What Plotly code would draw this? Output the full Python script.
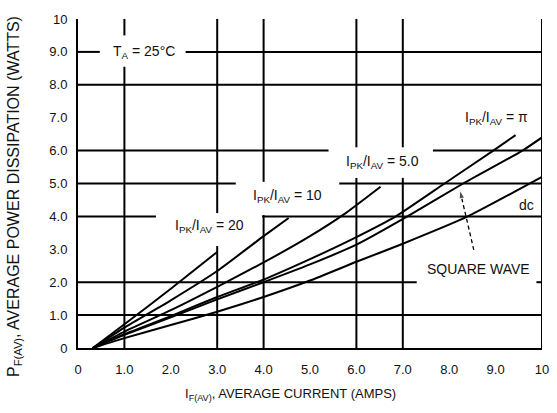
import plotly.graph_objects as go

# ---- data ----
x_ratio20 = [0.32, 1.0, 2.0, 3.0]
y_ratio20 = [0.0, 0.72, 1.80, 2.92]

x_ratio10 = [0.32, 1.0, 2.0, 3.0, 4.0, 4.54]
y_ratio10 = [0.0, 0.62, 1.45, 2.34, 3.40, 3.95]

x_ratio5 = [0.32, 1.0, 2.0, 3.0, 4.0, 5.0, 5.77, 6.52]
y_ratio5 = [0.0, 0.50, 1.15, 1.86, 2.60, 3.40, 4.10, 4.90]

x_ratiopi = [0.32, 1.0, 2.0, 3.0, 4.0, 5.0, 6.0, 6.85, 7.9, 8.95, 9.43]
y_ratiopi = [0.0, 0.42, 0.97, 1.55, 2.08, 2.70, 3.37, 4.0, 5.0, 6.0, 6.47]

x_square = [0.32, 1.0, 2.0, 3.0, 4.0, 5.0, 6.0, 7.1, 8.3, 9.58, 10.0]
y_square = [0.0, 0.40, 0.93, 1.48, 2.00, 2.54, 3.14, 4.0, 5.0, 6.0, 6.40]

x_dc = [0.32, 1.0, 2.0, 3.0, 4.0, 5.0, 6.0, 7.0, 8.4, 10.0]
y_dc = [0.0, 0.30, 0.70, 1.10, 1.55, 2.05, 2.62, 3.17, 4.0, 5.20]

tick_vals = [0, 1, 2, 3, 4, 5, 6, 7, 8, 9, 10]
tick_text = ["0", "1.0", "2.0", "3.0", "4.0", "5.0", "6.0", "7.0", "8.0", "9.0", "10"]

# grid segments: (x value, y from, y to) and (y value, x from, x to)
vgrid_x = [1, 1, 3, 3, 4, 4, 6, 6, 7, 7, 10]
vgrid_y0 = [9.5, 0, 4.1, 0, 5.05, 0, 6.1, 0, 6.1, 0, 0]
vgrid_y1 = [10, 8.55, 10, 3.1, 10, 4.04, 10, 5.17, 10, 5.17, 10]

hgrid_y = [9, 9, 8, 6, 6, 5, 5, 4, 4, 2, 2, 1]
hgrid_x0 = [0, 2.32, 0, 0, 7.65, 0, 5.63, 0, 3.97, 0, 9.88, 0]
hgrid_x1 = [0.47, 10, 10, 5.4, 10, 3.4, 10, 1.68, 10, 7.3, 10, 10]

# labels
label_text = ["T<sub>A</sub> = 25°C", "I<sub>PK</sub>/I<sub>AV</sub> = 20",
              "I<sub>PK</sub>/I<sub>AV</sub> = 10", "I<sub>PK</sub>/I<sub>AV</sub> = 5.0",
              "I<sub>PK</sub>/I<sub>AV</sub> = π", "dc", "SQUARE WAVE"]
label_x = [1.42, 2.83, 4.52, 6.56, 9.02, 9.66, 8.64]
label_y = [9.0, 3.72, 4.62, 5.65, 6.98, 4.35, 2.4]

arrow_x = [8.53, 8.23]
arrow_y = [2.98, 4.8]

FONT = "Liberation Sans, Arial, sans-serif"

fig = go.Figure()
for xs, ys in [(x_ratio20, y_ratio20), (x_ratio10, y_ratio10), (x_ratio5, y_ratio5),
               (x_ratiopi, y_ratiopi), (x_square, y_square), (x_dc, y_dc)]:
    fig.add_trace(go.Scatter(x=xs, y=ys, mode="lines",
                             line=dict(color="black", width=2, shape="spline", smoothing=0.5),
                             showlegend=False, hoverinfo="skip"))

fig.add_trace(go.Scatter(x=arrow_x, y=arrow_y, mode="lines+markers",
                         line=dict(color="black", width=1.3, dash="4px,3px"),
                         marker=dict(symbol=["circle", "arrow"], size=[0, 9],
                                     angleref="previous", color="black"),
                         showlegend=False, hoverinfo="skip"))

shapes = []
for xv, a, b in zip(vgrid_x, vgrid_y0, vgrid_y1):
    shapes.append(dict(type="line", xref="x", yref="y", x0=xv, x1=xv, y0=a, y1=b,
                       line=dict(color="black", width=2)))
for yv, a, b in zip(hgrid_y, hgrid_x0, hgrid_x1):
    shapes.append(dict(type="line", xref="x", yref="y", x0=a, x1=b, y0=yv, y1=yv,
                       line=dict(color="black", width=2)))

annotations = []
for t, xv, yv in zip(label_text, label_x, label_y):
    annotations.append(dict(x=xv, y=yv, xref="x", yref="y", text=t, showarrow=False,
                            xanchor="center", yanchor="middle",
                            font=dict(family=FONT, size=14, color="#111")))

annotations.append(dict(xref="paper", yref="paper", x=(294 - 78) / 471, y=-(394 - 348) / 329,
                        xanchor="center", yanchor="middle",
                        text="I<sub>F(AV)</sub>, AVERAGE CURRENT (AMPS)", showarrow=False,
                        font=dict(family=FONT, size=13, color="#111")))
annotations.append(dict(xref="paper", yref="paper", x=-(78 - 14) / 471, y=(348 - 196) / 329,
                        xanchor="center", yanchor="middle",
                        text="P<sub>F(AV)</sub>, AVERAGE POWER DISSIPATION (WATTS)", showarrow=False,
                        textangle=-90,
                        font=dict(family=FONT, size=16, color="#111")))

fig.update_layout(
    width=557, height=413,
    margin=dict(l=78, r=8, t=19, b=65),
    paper_bgcolor="white", plot_bgcolor="white",
    shapes=shapes, annotations=annotations,
    xaxis=dict(range=[0, 10], tickvals=tick_vals, ticktext=tick_text, showgrid=False,
               zeroline=False, showline=True, linecolor="black", linewidth=2,
               ticks="", ticklabelstandoff=8,
               tickfont=dict(family=FONT, size=13, color="#111")),
    yaxis=dict(range=[0, 10], tickvals=tick_vals, ticktext=tick_text, showgrid=False,
               zeroline=False, showline=True, linecolor="black", linewidth=2,
               ticks="", ticklabelstandoff=6,
               tickfont=dict(family=FONT, size=13, color="#111")),
)

fig.write_html("out.html")
